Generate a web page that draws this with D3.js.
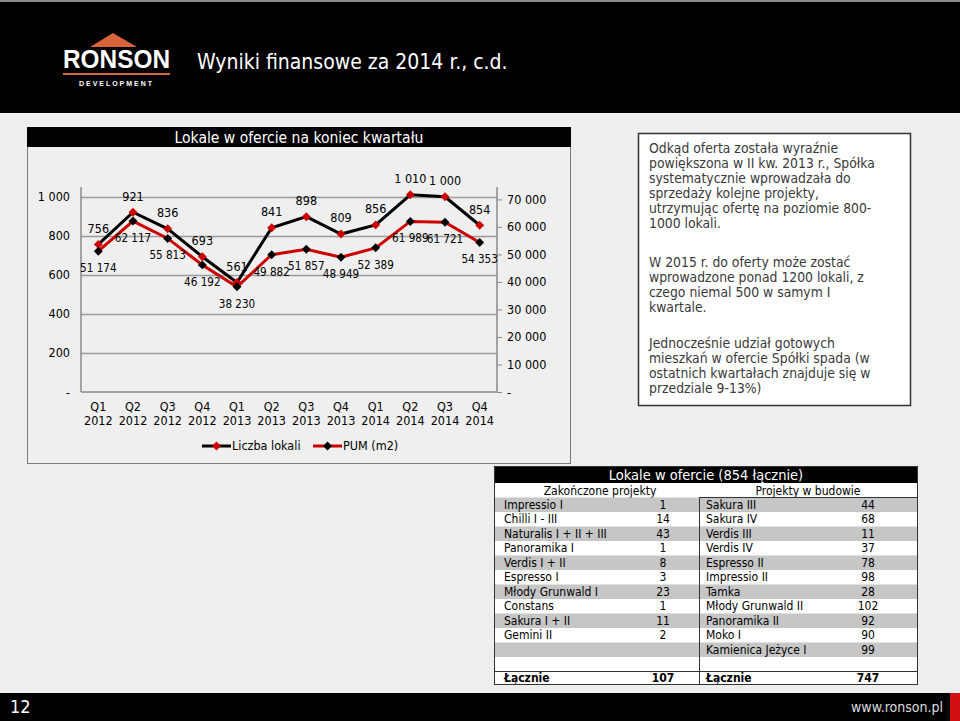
<!DOCTYPE html>
<html><head><meta charset="utf-8">
<script src="https://cdn.jsdelivr.net/npm/d3@7"></script>
<style>
html,body{margin:0;padding:0;background:#eeeeee;}
svg{display:block;}
text{font-family:"DejaVu Sans Condensed","DejaVu Sans",sans-serif;}
</style></head>
<body>
<script>
// ---- data ----
const quarters = ["Q1","Q2","Q3","Q4","Q1","Q2","Q3","Q4","Q1","Q2","Q3","Q4"];
const years = ["2012","2012","2012","2012","2013","2013","2013","2013","2014","2014","2014","2014"];
const liczbaLokali = [756, 921, 836, 693, 561, 841, 898, 809, 856, 1010, 1000, 854];
const pum = [51174, 62117, 55813, 46192, 38230, 49882, 51857, 48949, 52389, 61989, 61721, 54353];
const leftTicks = [0, 200, 400, 600, 800, 1000];
const rightTicks = [0, 10000, 20000, 30000, 40000, 50000, 60000, 70000];
const seriesNames = ["Liczba lokali", "PUM (m2)"];
const finishedNames = ["Impressio I","Chilli I - III","Naturalis I + II + III","Panoramika I","Verdis I + II","Espresso I","Młody Grunwald I","Constans","Sakura I + II","Gemini II"];
const finishedValues = [1, 14, 43, 1, 8, 3, 23, 1, 11, 2];
const buildNames = ["Sakura III","Sakura IV","Verdis III","Verdis IV","Espresso II","Impressio II","Tamka","Młody Grunwald II","Panoramika II","Moko I","Kamienica Jeżyce I"];
const buildValues = [44, 68, 11, 37, 78, 98, 28, 102, 92, 90, 99];
const textParagraphs = [
 ["Odkąd oferta została wyraźnie","powiększona w II kw. 2013 r., Spółka","systematycznie wprowadzała do","sprzedaży kolejne projekty,","utrzymując ofertę na poziomie 800-","1000 lokali."],
 ["W 2015 r. do oferty może zostać","wprowadzone ponad 1200 lokali, z","czego niemal 500 w samym I","kwartale."],
 ["Jednocześnie udział gotowych","mieszkań w ofercie Spółki spada (w","ostatnich kwartałach znajduje się w","przedziale 9-13%)"]
];

const RED = "#cc0000";
const W = 960, H = 721;
const svg = d3.select("body").append("svg").attr("width", W).attr("height", H);
svg.append("rect").attr("width", W).attr("height", H).attr("fill", "#eeeeee");

// ---- header ----
svg.append("rect").attr("x",0).attr("y",0).attr("width",W).attr("height",113).attr("fill","#000");
svg.append("rect").attr("x",0).attr("y",0).attr("width",W).attr("height",2).attr("fill","#8a8a8a");
svg.append("path").attr("d","M90,47 L113,33 L137,47 Z").attr("fill","#d8643c");
svg.append("text").attr("x",63).attr("y",68).attr("fill","#fff").attr("font-size",26).attr("font-weight","bold")
  .attr("textLength",107).attr("lengthAdjust","spacingAndGlyphs")
  .style("font-family","'Liberation Sans',Arial,sans-serif").text("RONSON");
svg.append("rect").attr("x",63).attr("y",73).attr("width",107).attr("height",2).attr("fill","#d8643c");
svg.append("text").attr("x",79).attr("y",86).attr("fill","#fff").attr("font-size",7).attr("font-weight","bold")
  .attr("textLength",73).style("font-family","'Liberation Sans',Arial,sans-serif").text("DEVELOPMENT");
svg.append("text").attr("x",197).attr("y",69).attr("fill","#fff").attr("font-size",21).text("Wyniki finansowe za 2014 r., c.d.");

// ---- footer ----
svg.append("rect").attr("x",0).attr("y",693).attr("width",W).attr("height",28).attr("fill","#000");
svg.append("rect").attr("x",950).attr("y",693).attr("width",10).attr("height",28).attr("fill","#d01010");
svg.append("text").attr("x",10).attr("y",713).attr("fill","#fff").attr("font-size",18).text("12");
svg.append("text").attr("x",943).attr("y",712).attr("text-anchor","end").attr("fill","#dcdcdc").attr("font-size",14).text("www.ronson.pl");

// ---- chart box ----
svg.append("rect").attr("x",27.5).attr("y",127.5).attr("width",543).attr("height",336).attr("fill","#efefef").attr("stroke","#7a7a7a");
svg.append("rect").attr("x",27).attr("y",127).attr("width",544).attr("height",20).attr("fill","#000");
svg.append("text").attr("x",299).attr("y",138).attr("dy","0.35em").attr("text-anchor","middle").attr("fill","#fff").attr("font-size",15.5).text("Lokale w ofercie na koniec kwartału");

const x0 = 81, x1 = 497, yTop = 187, yBot = 392;
const x = d3.scaleBand().domain(d3.range(12)).range([x0, x1]);
const cx = i => x(i) + x.bandwidth()/2;
const yL = d3.scaleLinear().domain([0, 1050]).range([yBot, yTop]);
const yR = d3.scaleLinear().domain([0, 74500]).range([yBot, yTop]);
const fmt = v => v === 0 ? "-" : d3.format(",")(v).replace(/,/g, " ");

const g = svg.append("g");
// gridlines
g.selectAll(".grid").data(leftTicks.filter(t => t > 0)).join("line")
  .attr("x1", x0).attr("x2", x1).attr("y1", d => Math.round(yL(d))+0.5).attr("y2", d => Math.round(yL(d))+0.5)
  .attr("stroke", "#9a9a9a").attr("stroke-width", 1.5);
// left axis
const la = g.append("g").attr("transform", `translate(${x0},0)`)
  .call(d3.axisLeft(yL).tickValues(leftTicks).tickFormat(fmt).tickSize(0).tickPadding(11));
la.select(".domain").attr("stroke","#8a8a8a").attr("stroke-width",1.5).attr("d", `M0,${yTop}V${yBot}`);
la.selectAll("text").attr("font-size", 12.5).attr("fill","#000").style("font-family","'DejaVu Sans Condensed','DejaVu Sans',sans-serif");
// right axis
const ra = g.append("g").attr("transform", `translate(${x1},0)`)
  .call(d3.axisRight(yR).tickValues(rightTicks).tickFormat(fmt).tickSize(5).tickPadding(5));
ra.select(".domain").attr("stroke","#8a8a8a").attr("stroke-width",1.5).attr("d", `M0,${yTop}V${yBot}`);
ra.selectAll(".tick line").attr("stroke","#8a8a8a");
ra.selectAll("text").attr("font-size", 12.5).attr("fill","#000").style("font-family","'DejaVu Sans Condensed','DejaVu Sans',sans-serif");
// bottom axis line
g.append("line").attr("x1",x0).attr("x2",x1).attr("y1",yBot).attr("y2",yBot).attr("stroke","#8a8a8a").attr("stroke-width",1.5);
// x labels
const xl = g.selectAll(".xl").data(d3.range(12)).join("text").attr("text-anchor","middle").attr("font-size",12.5).attr("fill","#000");
xl.append("tspan").attr("x", cx).attr("y", 411).text(i => quarters[i]);
xl.append("tspan").attr("x", cx).attr("y", 425).text(i => years[i]);

// lines
const diamond = d3.symbol().type(d3.symbolSquare).size(40);
const lineL = d3.line().x((d,i) => cx(i)).y(d => yL(d));
const lineR = d3.line().x((d,i) => cx(i)).y(d => yR(d));
g.append("path").attr("d", lineL(liczbaLokali)).attr("fill","none").attr("stroke","#000").attr("stroke-width",3);
g.append("path").attr("d", lineR(pum)).attr("fill","none").attr("stroke",RED).attr("stroke-width",3);
g.selectAll(".mL").data(liczbaLokali).join("path").attr("d", diamond)
  .attr("transform", (d,i) => `translate(${cx(i)},${yL(d)}) rotate(45)`).attr("fill", RED);
g.selectAll(".mR").data(pum).join("path").attr("d", diamond)
  .attr("transform", (d,i) => `translate(${cx(i)},${yR(d)}) rotate(45)`).attr("fill", "#000");
// data labels
g.selectAll(".lL").data(liczbaLokali).join("text").attr("x",(d,i)=>cx(i)).attr("y", d => yL(d) - 16).attr("dy","0.35em")
  .attr("text-anchor","middle").attr("font-size",12.5).attr("fill","#000").text(fmt);
g.selectAll(".lR").data(pum).join("text").attr("x",(d,i)=>cx(i)).attr("y", d => yR(d) + 17).attr("dy","0.35em")
  .attr("text-anchor","middle").attr("font-size",11.6).attr("fill","#000").text(fmt);

// legend
const leg = [{x:202, line:"#000", mark:RED}, {x:313, line:RED, mark:"#000"}];
leg.forEach((l, k) => {
  g.append("line").attr("x1", l.x).attr("x2", l.x+29).attr("y1", 446).attr("y2", 446).attr("stroke", l.line).attr("stroke-width", 3);
  g.append("path").attr("d", diamond).attr("transform", `translate(${l.x+14.5},446) rotate(45)`).attr("fill", l.mark);
  g.append("text").attr("x", l.x+30).attr("y", 446).attr("dy","0.35em").attr("font-size",12.5).attr("fill","#000").text(seriesNames[k]);
});

// ---- text box ----
svg.append("rect").attr("x",638.5).attr("y",133.5).attr("width",272).attr("height",272).attr("fill","#fff").attr("stroke","#333").attr("stroke-width",1.5);
const paraStarts = [148, 262, 343];
textParagraphs.forEach((p, k) => {
  p.forEach((ln, j) => {
    svg.append("text").attr("x",649).attr("y", paraStarts[k] + j*15).attr("dy","0.35em").attr("font-size",13.8).attr("fill","#3a3a3a").text(ln);
  });
});

// ---- table ----
const tL = 494, tR = 918, tT = 466, tB = 685, div = 699;
svg.append("rect").attr("x",tL).attr("y",tT).attr("width",tR-tL).attr("height",tB-tT).attr("fill","#fff");
svg.append("rect").attr("x",tL).attr("y",tT).attr("width",tR-tL).attr("height",17).attr("fill","#000");
svg.append("text").attr("x",(tL+tR)/2).attr("y",475).attr("dy","0.35em").attr("text-anchor","middle").attr("fill","#fff").attr("font-size",14.5).text("Lokale w ofercie (854 łącznie)");
svg.append("text").attr("x",600).attr("y",491).attr("dy","0.35em").attr("text-anchor","middle").attr("font-size",12).attr("fill","#000").text("Zakończone projekty");
svg.append("text").attr("x",808).attr("y",491).attr("dy","0.35em").attr("text-anchor","middle").attr("font-size",12).attr("fill","#000").text("Projekty w budowie");
const rowH = 14.5, row0 = 497.5;
const nRows = Math.max(finishedNames.length, buildNames.length);
svg.selectAll(".rowbg").data(d3.range(nRows)).join("rect")
  .attr("x", tL).attr("width", tR-tL).attr("y", i => row0 + i*rowH).attr("height", rowH)
  .attr("fill", i => i % 2 === 0 ? "#c6c6c6" : "#fff");
const cellText = (arr, xx, anchor) => svg.selectAll(null).data(arr).join("text")
  .attr("x", xx).attr("y", (d,i) => row0 + i*rowH + rowH/2).attr("dy","0.35em").attr("text-anchor", anchor)
  .attr("font-size",12).attr("fill","#000").text(d => d);
cellText(finishedNames, 504, "start");
cellText(finishedValues, 663, "middle");
cellText(buildNames, 706, "start");
cellText(buildValues, 868, "middle");
const totY = 678;
svg.append("line").attr("x1",tL).attr("x2",tR).attr("y1",671.5).attr("y2",671.5).attr("stroke","#333");
svg.append("line").attr("x1",div).attr("x2",tR).attr("y1",497.5).attr("y2",497.5).attr("stroke","#333");
svg.append("line").attr("x1",div+0.5).attr("x2",div+0.5).attr("y1",497.5).attr("y2",tB).attr("stroke","#333");
[["Łącznie",504,"start"],[d3.sum(finishedValues),663,"middle"],["Łącznie",706,"start"],[d3.sum(buildValues),868,"middle"]].forEach(c => {
  svg.append("text").attr("x",c[1]).attr("y",totY).attr("dy","0.35em").attr("text-anchor",c[2]).attr("font-size",12).attr("font-weight","bold").attr("fill","#000").text(c[0]);
});
svg.append("rect").attr("x",tL+0.5).attr("y",tT+0.5).attr("width",tR-tL-1).attr("height",tB-tT-1).attr("fill","none").attr("stroke","#333");
</script>
</body></html>
